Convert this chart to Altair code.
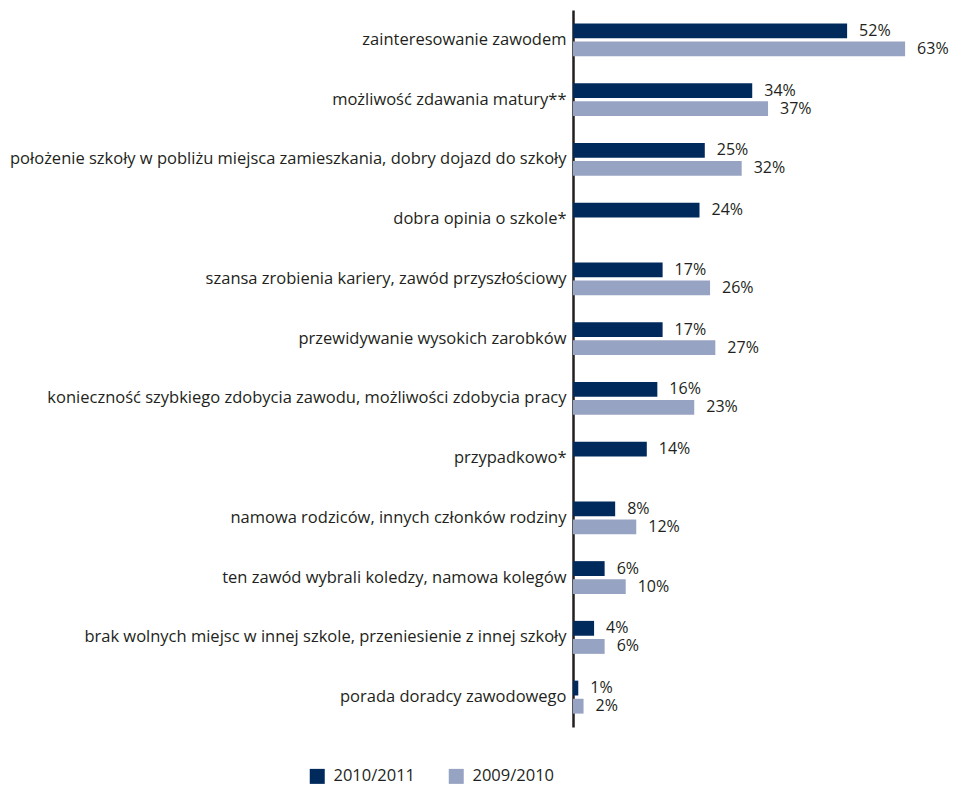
import altair as alt
import pandas as pd

categories = [
    "zainteresowanie zawodem",
    "możliwość zdawania matury**",
    "położenie szkoły w pobliżu miejsca zamieszkania, dobry dojazd do szkoły",
    "dobra opinia o szkole*",
    "szansa zrobienia kariery, zawód przyszłościowy",
    "przewidywanie wysokich zarobków",
    "konieczność szybkiego zdobycia zawodu, możliwości zdobycia pracy",
    "przypadkowo*",
    "namowa rodziców, innych członków rodziny",
    "ten zawód wybrali koledzy, namowa kolegów",
    "brak wolnych miejsc w innej szkole, przeniesienie z innej szkoły",
    "porada doradcy zawodowego",
]
series = ["2010/2011", "2009/2010"]
values_2010_2011 = [52, 34, 25, 24, 17, 17, 16, 14, 8, 6, 4, 1]
values_2009_2010 = [63, 37, 32, None, 26, 27, 23, None, 12, 10, 6, 2]
colors = ["#002a5c", "#97a3c2"]

rows = []
for c, a, b in zip(categories, values_2010_2011, values_2009_2010):
    rows.append({"cat": c, "series": series[0], "v": a})
    if b is not None:
        rows.append({"cat": c, "series": series[1], "v": b})
df = pd.DataFrame(rows)
df["label"] = df["v"].astype(int).astype(str) + "%"

FONT = "Open Sans"
FS = 16.5

y = alt.Y("cat:N", sort=categories, title=None,
          scale=alt.Scale(paddingInner=0.448, paddingOuter=0.224),
          axis=alt.Axis(ticks=False, domainColor="#231f20", domainWidth=2.5,
                        labelFontSize=FS, labelFont=FONT, labelColor="#231f20",
                        labelPadding=7, labelLimit=800, grid=False))
yoff = alt.YOffset("series:N", sort=series,
                   scale=alt.Scale(paddingInner=0.18, paddingOuter=0))
x = alt.X("v:Q", scale=alt.Scale(domain=[0, 70]), axis=None)

bars = alt.Chart(df).mark_bar().encode(
    y=y, yOffset=yoff, x=x,
    color=alt.Color("series:N", sort=series,
                    scale=alt.Scale(domain=series, range=colors),
                    legend=alt.Legend(title=None, orient="none", direction="horizontal",
                                      legendX=-264, legendY=758,
                                      symbolType="square", symbolSize=225,
                                      symbolStrokeWidth=0,
                                      labelFont=FONT, labelFontSize=FS,
                                      labelColor="#231f20", labelOffset=8,
                                      columnPadding=32)),
)
text = alt.Chart(df).mark_text(align="left", baseline="middle", dx=12,
                               font=FONT, fontSize=16, color="#231f20").encode(
    y=alt.Y("cat:N", sort=categories), yOffset=yoff, x=x, text="label:N")

chart = (bars + text).properties(
    width=369, height=717,
    background="white",
    autosize=alt.AutoSizeParams(type="none"),
    padding={"left": 565, "top": 2, "right": 7, "bottom": 58},
).configure_view(stroke=None)

chart.save("out.html", embed_options={"renderer": "svg", "actions": False})
